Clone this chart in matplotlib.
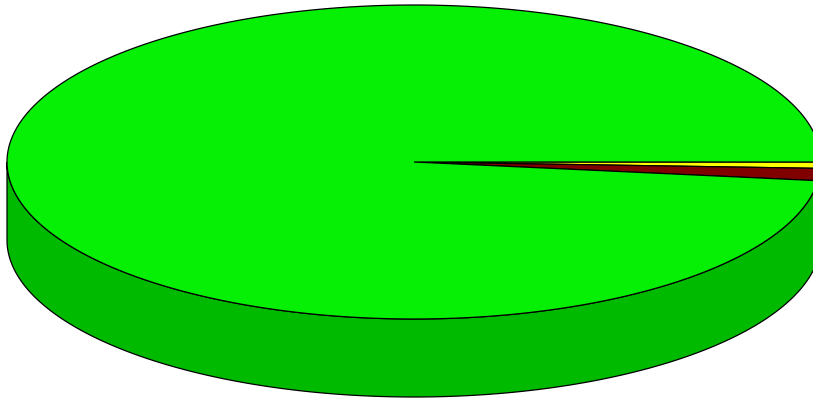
import numpy as np
import matplotlib
matplotlib.use("Agg")
import matplotlib.pyplot as plt
from matplotlib.patches import Polygon

# slice values, clockwise from 3 o'clock
labels = ["Yellow", "Red", "Green"]
values = [0.65, 1.25, 98.1]
top_colors = ["#ffff00", "#800000", "#05f005"]
side_colors = ["#bfbf00", "#600000", "#00ba00"]

# ellipse geometry in pixels
cx, cy = 414, 162
rx, ry = 407, 157
depth = 78

fig = plt.figure(figsize=(8.13, 4.0), dpi=100)
ax = fig.add_axes([0, 0, 1, 1])
ax.set_xlim(0, 813)
ax.set_ylim(400, 0)
ax.axis("off")

fracs = np.array(values) / np.sum(values)
bounds = np.concatenate([[0], np.cumsum(fracs)]) * 2 * np.pi


def arc(t0, t1, n=400):
    t = np.linspace(t0, t1, max(2, int(n * (t1 - t0) / (2 * np.pi)) + 2))
    return cx + rx * np.cos(t), cy + ry * np.sin(t)


# side walls (front half only)
for i in range(len(values)):
    t0, t1 = bounds[i], min(bounds[i + 1], np.pi)
    if t1 <= t0:
        continue
    x, y = arc(t0, t1)
    pts = np.column_stack([np.concatenate([x, x[::-1]]),
                           np.concatenate([y, y[::-1] + depth])])
    ax.add_patch(Polygon(pts, closed=True, fc=side_colors[i], ec="black", lw=0.9))

# top face
for i in range(len(values)):
    x, y = arc(bounds[i], bounds[i + 1])
    pts = np.column_stack([np.concatenate([[cx], x]), np.concatenate([[cy], y])])
    ax.add_patch(Polygon(pts, closed=True, fc=top_colors[i], ec="black", lw=0.9))

fig.savefig("out.png", dpi=100, facecolor="white")
